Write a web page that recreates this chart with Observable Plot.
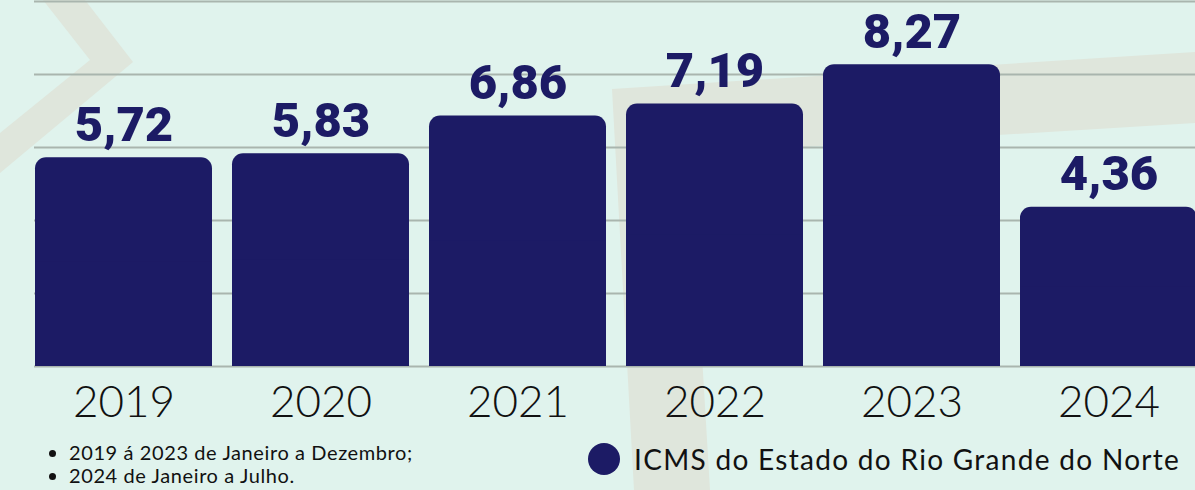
<!DOCTYPE html>
<html>
<head>
<meta charset="utf-8">
<script src="https://cdn.jsdelivr.net/npm/d3@7"></script>
<script src="https://cdn.jsdelivr.net/npm/@observablehq/plot@0.6"></script>
<style>
  html, body { margin: 0; padding: 0; background: #e0f3ed; }
  #wrap { position: relative; width: 1195px; height: 490px; overflow: hidden; background: #e0f3ed; }
  #deco { position: absolute; left: 0; top: 0; }
  #chart { position: absolute; left: 0; top: 0; }
  #chart svg { background: transparent; overflow: visible; }
  g[aria-label="valores"] text { letter-spacing: 6px; }
  #notes { position: absolute; left: 0; top: 441px; margin: 0; padding-left: 69px;
           font-family: Lato, "Open Sans", sans-serif; font-size: 20px; letter-spacing: 0.6px; color: #111; line-height: 23px; }
  #notes li { padding-left: 0; }
  #legend { position: absolute; left: 588px; top: 442px; display: flex; align-items: center;
            font-family: Lato, "Open Sans", sans-serif; font-size: 28px; letter-spacing: 1.3px; color: #111; }
  #legend .sw { width: 32px; height: 32px; border-radius: 50%; background: #1c1b65; margin-right: 14px; }
</style>
</head>
<body>
<div id="wrap">
  <svg id="deco" width="1195" height="490">
    <polygon points="43,0 85,0 133,62 0,173 0,133 90,60" fill="#dfe6dc"/>
    <polygon points="612,89 1195,52 1195,123 690,154 710,490 634,490" fill="#dfe6dc"/>
  </svg>
  <div id="chart"></div>
  <ul id="notes">
    <li>2019 á 2023 de Janeiro a Dezembro;</li>
    <li>2024 de Janeiro a Julho.</li>
  </ul>
  <div id="legend"><div class="sw"></div><span>ICMS do Estado do Rio Grande do Norte</span></div>
</div>
<script>
const anos = ["2019", "2020", "2021", "2022", "2023", "2024"];
const icms = [5.72, 5.83, 6.86, 7.19, 8.27, 4.36];
const gradeY = [0, 2, 4, 6, 8, 10];

const dados = anos.map((a, i) => ({ano: a, valor: icms[i]}));
const fmt = v => v.toFixed(2).replace(".", ",");
const navy = "#1c1b65";

const chart = Plot.plot({
  width: 1195,
  height: 435,
  marginTop: 0,
  marginLeft: 34,
  marginRight: 0,
  marginBottom: 69,
  x: {domain: anos, range: [15.3, 1217], paddingInner: 0.1, paddingOuter: 0.1, label: null},
  y: {domain: [0, 10], range: [366, 1], axis: null},
  style: {background: "transparent", overflow: "visible"},
  marks: [
    Plot.ruleY(gradeY, {stroke: "#a9b5ae", strokeWidth: 2}),
    Plot.rectY(dados, {x: "ano", y: "valor", fill: navy, rx: 11}),
    Plot.rectY(dados, {x: "ano", y1: 0, y2: d => d.valor / 2, fill: navy}),
    Plot.text(dados, {x: "ano", y: "valor", text: d => fmt(d.valor), dy: -17, lineAnchor: "bottom",
      fontSize: 49, fontWeight: 900, fontFamily: "Roboto, sans-serif", fill: navy, ariaLabel: "valores"}),
    Plot.axisX({tickSize: 0, tickPadding: 19, fontSize: 44, fontWeight: 300,
      fontFamily: "Lato, 'Open Sans', sans-serif", fill: "#111", label: null})
  ]
});
document.getElementById("chart").appendChild(chart);
</script>
</body>
</html>
